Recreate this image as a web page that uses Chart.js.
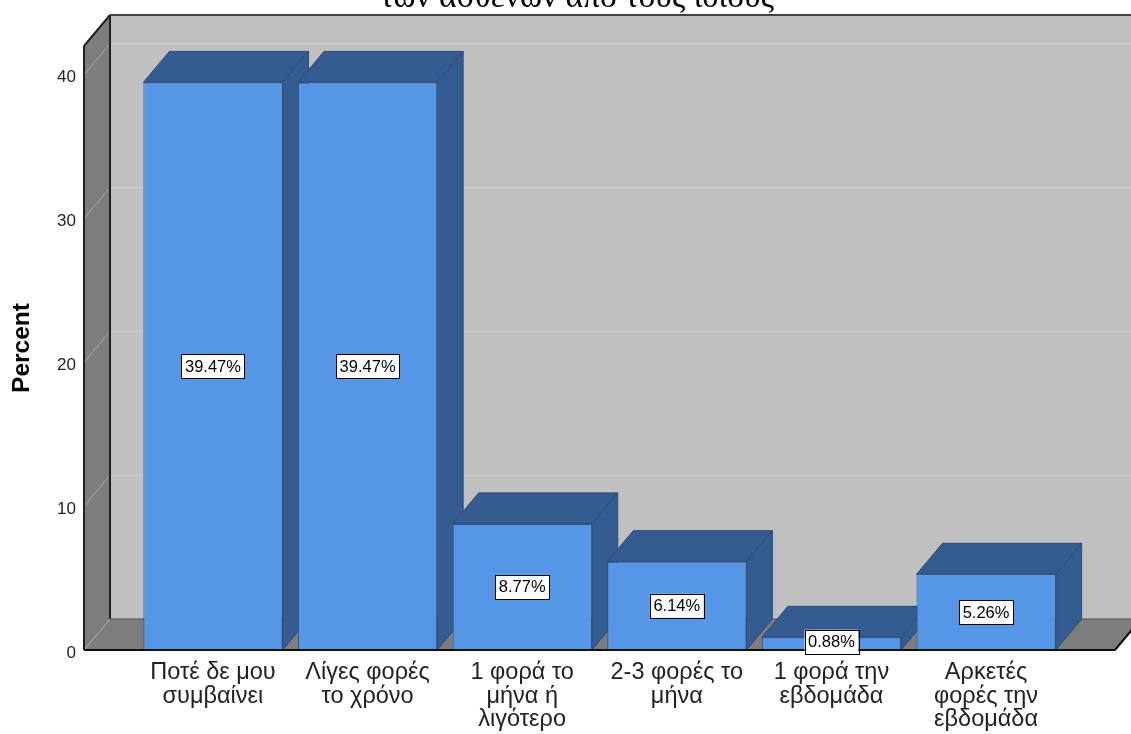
<!DOCTYPE html>
<html>
<head>
<meta charset="utf-8">
<script src="https://cdn.jsdelivr.net/npm/chart.js@4"></script>
<style>
  html, body { margin: 0; padding: 0; background: #fff; }
  #chart { display: block; }
</style>
</head>
<body>
<canvas id="chart" width="1131" height="734"></canvas>
<script>
// data
var categories = [
    ['Ποτέ δε μου', 'συμβαίνει'],
    ['Λίγες φορές', 'το χρόνο'],
    ['1 φορά το', 'μήνα ή', 'λιγότερο'],
    ['2-3 φορές το', 'μήνα'],
    ['1 φορά την', 'εβδομάδα'],
    ['Αρκετές', 'φορές την', 'εβδομάδα']
];
var percents = [39.47, 39.47, 8.77, 6.14, 0.88, 5.26];
var yTicks = [0, 10, 20, 30, 40];
var titleLine = 'των ασθενών από τους ίδιους';
var yTitle = 'Percent';

// depth of the fake 3d box
var DX = 26, DY = -31;

function poly(ctx, pts, fill, stroke, lw) {
    ctx.beginPath();
    ctx.moveTo(pts[0][0], pts[0][1]);
    for (var i = 1; i < pts.length; i++) ctx.lineTo(pts[i][0], pts[i][1]);
    ctx.closePath();
    if (fill) { ctx.fillStyle = fill; ctx.fill(); }
    if (stroke) { ctx.strokeStyle = stroke; ctx.lineWidth = lw || 1; ctx.stroke(); }
}

function line(ctx, x1, y1, x2, y2, color, lw) {
    ctx.beginPath();
    ctx.moveTo(x1, y1);
    ctx.lineTo(x2, y2);
    ctx.strokeStyle = color;
    ctx.lineWidth = lw || 1;
    ctx.stroke();
}

var boxPlugin = {
    id: 'box3d',
    beforeDatasetsDraw: function (chart) {
        var ctx = chart.ctx, a = chart.chartArea, y = chart.scales.y;
        var L = a.left, R = a.right, T = a.top, B = a.bottom;
        ctx.save();
        // back wall
        poly(ctx, [[L + DX, T + DY], [R + DX + 40, T + DY], [R + DX + 40, B + DY], [L + DX, B + DY]], '#c0c0c0');
        // left wall
        poly(ctx, [[L, T], [L + DX, T + DY], [L + DX, B + DY], [L, B]], '#7d7d7d');
        // floor
        poly(ctx, [[L, B], [L + DX, B + DY], [R + DX, B + DY], [R, B]], '#7d7d7d');
        // grid lines
        yTicks.forEach(function (v) {
            var py = y.getPixelForValue(v);
            if (v > 0) line(ctx, L + DX, py + DY, R + DX + 40, py + DY, '#d0d0d0', 1);
            line(ctx, L, py, L + DX, py + DY, '#a8a8a8', 1);
        });
        // edges
        line(ctx, L + DX, T + DY, R + DX + 40, T + DY, '#404040', 2);
        line(ctx, L, T, L + DX, T + DY, '#202020', 2);
        line(ctx, L + DX, T + DY, L + DX, B + DY, '#202020', 2);
        line(ctx, L + DX, B + DY, R + DX, B + DY, '#505050', 1);
        line(ctx, L, T, L, B, '#202020', 2);
        line(ctx, R, B, R + DX, B + DY, '#101010', 2);

        // bar tops and sides, fronts are drawn by the chart afterwards
        var bars = chart.getDatasetMeta(0).data;
        bars.forEach(function (bar) {
            var l = bar.x - bar.width / 2, r = bar.x + bar.width / 2, t = bar.y, b = bar.base;
            poly(ctx, [[l, t], [l + DX, t + DY], [r + DX, t + DY], [r, t]], '#345c90', '#2a4b78', 1);
            poly(ctx, [[r, t], [r + DX, t + DY], [r + DX, b + DY], [r, b]], '#345c90', '#2a4b78', 1);
        });
        ctx.restore();
    },
    afterDatasetsDraw: function (chart) {
        var ctx = chart.ctx, a = chart.chartArea;
        ctx.save();
        line(ctx, a.left, a.bottom, a.right, a.bottom, '#101010', 2);
        // value boxes
        ctx.font = '16.5px "Liberation Sans", Arial, sans-serif';
        ctx.textAlign = 'center';
        ctx.textBaseline = 'middle';
        chart.getDatasetMeta(0).data.forEach(function (bar, i) {
            var txt = percents[i].toFixed(2) + '%';
            var w = ctx.measureText(txt).width + 7, h = 24;
            var cy = (bar.y + bar.base) / 2;
            if (i === 4) cy -= 2;
            ctx.fillStyle = '#fff';
            ctx.fillRect(bar.x - w / 2, cy - h / 2, w, h);
            ctx.strokeStyle = '#000';
            ctx.lineWidth = 1;
            ctx.strokeRect(Math.round(bar.x - w / 2) + 0.5, Math.round(cy - h / 2) + 0.5, Math.round(w), h);
            ctx.fillStyle = '#000';
            ctx.fillText(txt, bar.x, cy + 1);
        });
        // second title line, its first line is above the picture
        ctx.font = '33.5px "Liberation Serif", serif';
        ctx.textBaseline = 'alphabetic';
        ctx.fillText(titleLine, 577, 7);
        ctx.restore();
    }
};

var ctx = document.getElementById('chart').getContext('2d');
var chart = new Chart(ctx, {
    type: 'bar',
    data: {
        datasets: [{
            data: percents.map(function (v, i) { return { x: i, y: v }; }),
            backgroundColor: '#5596e6',
            borderColor: '#2f5588',
            borderWidth: 1,
            barPercentage: 0.9,
            categoryPercentage: 1.0
        }]
    },
    options: {
        responsive: false,
        animation: false,
        devicePixelRatio: 1,
        layout: { padding: { top: 46, right: 16, left: 0, bottom: 0 } },
        plugins: { legend: { display: false }, tooltip: { enabled: false } },
        scales: {
            x: {
                type: 'linear',
                min: -0.834,
                max: 5.834,
                offset: false,
                grid: { display: false, drawTicks: false },
                border: { display: false },
                afterBuildTicks: function (s) { s.ticks = categories.map(function (c, i) { return { value: i }; }); },
                afterFit: function (s) { s.height = 84; },
                ticks: {
                    autoSkip: false,
                    maxRotation: 0,
                    padding: 11,
                    color: '#222',
                    font: { family: '"Liberation Sans", Arial, sans-serif', size: 23.5, lineHeight: 1.0 },
                    callback: function (v) { return categories[v]; }
                }
            },
            y: {
                min: 0,
                max: 42,
                grid: { display: false, drawTicks: false },
                border: { display: false },
                afterBuildTicks: function (s) { s.ticks = yTicks.map(function (v) { return { value: v }; }); },
                afterFit: function (s) { s.width = 84; },
                ticks: {
                    padding: 8,
                    labelOffset: 3,
                    color: '#222',
                    font: { family: '"Liberation Sans", Arial, sans-serif', size: 17 }
                },
                title: {
                    display: true,
                    text: yTitle,
                    color: '#000',
                    padding: { top: 8, bottom: 0 },
                    font: { family: '"Liberation Sans", Arial, sans-serif', size: 24.5, weight: 'bold' }
                }
            }
        }
    },
    plugins: [boxPlugin]
});
</script>
</body>
</html>
